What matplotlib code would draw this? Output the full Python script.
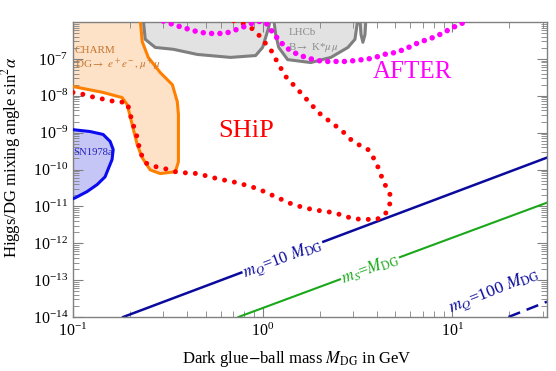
import numpy as np
import matplotlib
matplotlib.use("Agg")
import matplotlib.pyplot as plt
from matplotlib.ticker import LogLocator, FixedLocator, NullFormatter

plt.rcParams['font.family'] = ['Liberation Serif', 'DejaVu Serif']
plt.rcParams['mathtext.fontset'] = 'stix'

# all curves as log10(mass / GeV) and log10(sin^2 alpha)
charm_logm = [-0.646, -0.635, -0.603, -0.540, -0.476, -0.450, -0.444, -0.444, -0.460,
              -0.540, -0.593, -0.635, -0.661, -0.688, -0.714, -0.741, -0.841, -1.0]
charm_logs = [-5.90, -6.53, -6.96, -7.37, -7.70, -8.16, -8.51, -9.79, -10.06,
              -10.11, -10.01, -9.68, -9.33, -8.78, -8.24, -8.05, -7.91, -7.75]

lhcb_logm = [-0.630, -0.619, -0.566, -0.471, -0.344, -0.169, -0.037, 0.0, 0.032, 0.042,
             0.058, 0.069, 0.085, 0.132, 0.254, 0.360, 0.450, 0.487, 0.503, 0.513,
             0.519, 0.529, 0.540, 0.545]
lhcb_logs = [-5.90, -6.47, -6.69, -6.74, -6.88, -6.96, -6.91, -6.69, -6.15, -5.90,
             -5.90, -6.34, -6.69, -7.02, -7.10, -6.96, -6.69, -6.47, -5.90, -5.90,
             -6.34, -6.55, -6.34, -5.90]

sn_logm = [-1.0, -0.910, -0.841, -0.804, -0.788, -0.794, -0.831, -0.873, -0.926, -0.989, -1.0]
sn_logs = [-8.92, -8.97, -9.05, -9.24, -9.46, -9.73, -10.20, -10.41, -10.60, -10.77, -10.79]

ship_logm = [-1.0, -0.937, -0.884, -0.831, -0.778, -0.714, -0.698, -0.683, -0.661, -0.646,
             -0.619, -0.566, -0.513, -0.460, -0.407, -0.344, -0.238, -0.132, -0.026, 0.069,
             0.164, 0.265, 0.376, 0.481, 0.598, 0.640, 0.667, 0.677, 0.661, 0.640,
             0.614, 0.598, 0.556, 0.508, 0.466, 0.413, 0.370, 0.296, 0.238, 0.180,
             0.122, 0.079, 0.042, -0.011, -0.032, -0.074, -0.116, -0.159, -0.19]
ship_logs = [-7.91, -7.97, -8.05, -8.10, -8.16, -8.18, -8.51, -8.78, -9.14, -9.52,
             -9.82, -9.92, -9.98, -10.06, -10.09, -10.11, -10.25, -10.36, -10.52, -10.74,
             -10.96, -11.09, -11.17, -11.34, -11.36, -11.26, -11.04, -10.74, -10.55, -10.36,
             -10.01, -9.79, -9.46, -9.33, -9.19, -8.92, -8.76, -8.46, -8.13, -7.80,
             -7.48, -7.10, -6.74, -6.42, -6.26, -6.12, -6.01, -5.96, -5.90]

after_logm = [-0.566, -0.550, -0.503, -0.460, -0.418, -0.370, -0.328, -0.286, -0.238, -0.196,
              -0.153, -0.116, -0.074, -0.026, 0.016, 0.053, 0.095, 0.138, 0.185, 0.228,
              0.270, 0.317, 0.360, 0.402, 0.450, 0.492, 0.529, 0.571, 0.614, 0.661,
              0.704, 0.746, 0.783, 0.825, 0.873, 0.915, 0.958, 0.995, 1.037, 1.085, 1.10]
after_logs = [-5.92, -5.93, -6.01, -6.09, -6.15, -6.23, -6.28, -6.31, -6.31, -6.31,
              -6.23, -6.17, -6.07, -5.98, -6.01, -6.28, -6.55, -6.74, -6.88, -6.96,
              -7.02, -7.07, -7.07, -7.07, -7.07, -7.04, -7.02, -6.99, -6.93, -6.85,
              -6.83, -6.74, -6.66, -6.55, -6.47, -6.39, -6.28, -6.17, -6.07, -5.96, -5.90]

# straight lines (mass in GeV, sin^2 alpha)
mq10_m = [0.184, 31.6]
mq10_s = [1e-14, 2.1e-10]
ms_m = [0.746, 31.6]
ms_s = [1e-14, 1.26e-11]
mq100_m = [19.8, 31.6]
mq100_s = [1e-14, 2.6e-14]

xlo, xhi = 0.1, 10**1.5
ylo, yhi = 1e-14, 1e-6

fig = plt.figure(figsize=(5.56, 3.71), dpi=100)
ax = fig.add_axes([73/556, 1 - 317/371, 474/556, 295/371])
ax.set_xscale('log')
ax.set_yscale('log')
ax.set_xlim(xlo, xhi)
ax.set_ylim(ylo, yhi)


def pw(a):
    return 10.0 ** np.asarray(a)


# CHARM
cm, cs = pw(charm_logm), pw(charm_logs)
ax.fill(np.r_[cm, xlo, xlo], np.r_[cs, 2 * yhi, 2 * yhi], color='#fde2c8', lw=0, zorder=1)
ax.plot(cm, cs, color='#ff8000', lw=2.2, zorder=3, solid_capstyle='round')

# LHCb
lm, ls = pw(lhcb_logm), pw(lhcb_logs)
ax.fill(lm, ls, color='#e2e2e2', lw=0, zorder=1)
ax.plot(lm, ls, color='#7f7f7f', lw=2.2, zorder=3, solid_joinstyle='round')

# SN1978a
sm, ss = pw(sn_logm), pw(sn_logs)
ax.fill(sm, ss, color='#c6c6f6', lw=0, zorder=1)
ax.plot(sm, ss, color='#0b0bf0', lw=2.2, zorder=3)

# SHiP and AFTER sensitivities (dotted)
ax.plot(pw(ship_logm), pw(ship_logs), color='#ff0000', lw=3.6,
        linestyle=(0, (0.001, 2.0)), dash_capstyle='round', zorder=4)
ax.plot(pw(after_logm), pw(after_logs), color='#ff00ff', lw=4.0,
        linestyle=(0, (0.001, 1.5)), dash_capstyle='round', zorder=4)

# heavy-quark lines
ax.plot(mq10_m, mq10_s, color='#0a0a9c', lw=1.8, zorder=2)
ax.plot(ms_m, ms_s, color='#1aa81a', lw=1.5, zorder=2)
ax.plot(mq100_m, mq100_s, color='#0a0a9c', lw=1.8, linestyle=(0, (5, 2.8)), zorder=2)


def angle(x, y):
    p = ax.transData.transform(np.column_stack([x, y]))
    d = p[-1] - p[0]
    return np.degrees(np.arctan2(d[1], d[0]))


wb = dict(facecolor='white', edgecolor='none', pad=0.5)
ax.text(0.443, 0.197, r'$m_Q$=10 $M_{\rm DG}$', transform=ax.transAxes, color='#0a0a9c',
        fontsize=12, rotation=angle(mq10_m, mq10_s), ha='center', va='center',
        rotation_mode='anchor', bbox=wb, zorder=5)
ax.text(0.627, 0.163, r'$m_S$=$M_{\rm DG}$', transform=ax.transAxes, color='#1aa81a',
        fontsize=12, rotation=angle(ms_m, ms_s), ha='center', va='center',
        rotation_mode='anchor', bbox=wb, zorder=5)
ax.text(0.888, 0.088, r'$m_Q$=100 $M_{\rm DG}$', transform=ax.transAxes, color='#0a0a9c',
        fontsize=12.5, rotation=angle(mq100_m, mq100_s), ha='center', va='center',
        rotation_mode='anchor', zorder=5)

# region labels
ax.text(0.004, 0.902, 'CHARM', transform=ax.transAxes, color='#c8742e', fontsize=8,
        va='center', zorder=5)
ax.text(0.004, 0.854, r'DG$\rightarrow$ $e^+e^-,\mu^+\mu$', transform=ax.transAxes,
        color='#c8742e', fontsize=8, va='center', zorder=5)
ax.text(0.454, 0.966, 'LHCb', transform=ax.transAxes, color='#8c8c8c', fontsize=7.8,
        va='center', zorder=5)
ax.text(0.454, 0.915, r'B$\rightarrow$ K*$\mu\,\mu$', transform=ax.transAxes,
        color='#8c8c8c', fontsize=7.8, va='center', zorder=5)
ax.text(0.0, 0.559, 'SN1978a', transform=ax.transAxes, color='#2020c0', fontsize=7.7,
        va='center', zorder=5)
ax.text(0.306, 0.630, 'SHiP', transform=ax.transAxes, color='#ff0000', fontsize=19,
        va='center', zorder=5)
ax.text(0.633, 0.831, 'AFTER', transform=ax.transAxes, color='#ff00ff', fontsize=18,
        va='center', zorder=5)

# axes, ticks
ax.yaxis.set_major_locator(FixedLocator(10.0 ** np.arange(-14, -6)))
ax.yaxis.set_minor_locator(LogLocator(base=10, subs=np.arange(2, 10), numticks=100))
ax.xaxis.set_major_locator(LogLocator(base=10, numticks=10))
ax.xaxis.set_minor_locator(LogLocator(base=10, subs=np.arange(2, 10), numticks=100))
ax.xaxis.set_minor_formatter(NullFormatter())
ax.yaxis.set_minor_formatter(NullFormatter())
ax.tick_params(which='both', direction='in', top=True, right=True, color='#808080',
               labelsize=11.5)
ax.tick_params(which='major', length=7, width=0.8)
ax.tick_params(which='minor', length=4, width=0.6)
ax.tick_params(axis='x', pad=4)
for s in ax.spines.values():
    s.set_color('#808080')
    s.set_linewidth(1.0)

ax.set_xlabel(r'Dark glue$-$ball mass $M_{\rm DG}$ in GeV', fontsize=12)
ax.set_ylabel(r'Higgs/DG mixing angle sin$^2\alpha$', fontsize=12)
ax.xaxis.set_label_coords(0.473, -0.108)
ax.yaxis.set_label_coords(-0.106, 0.54)

fig.savefig('out.png', dpi=100)
